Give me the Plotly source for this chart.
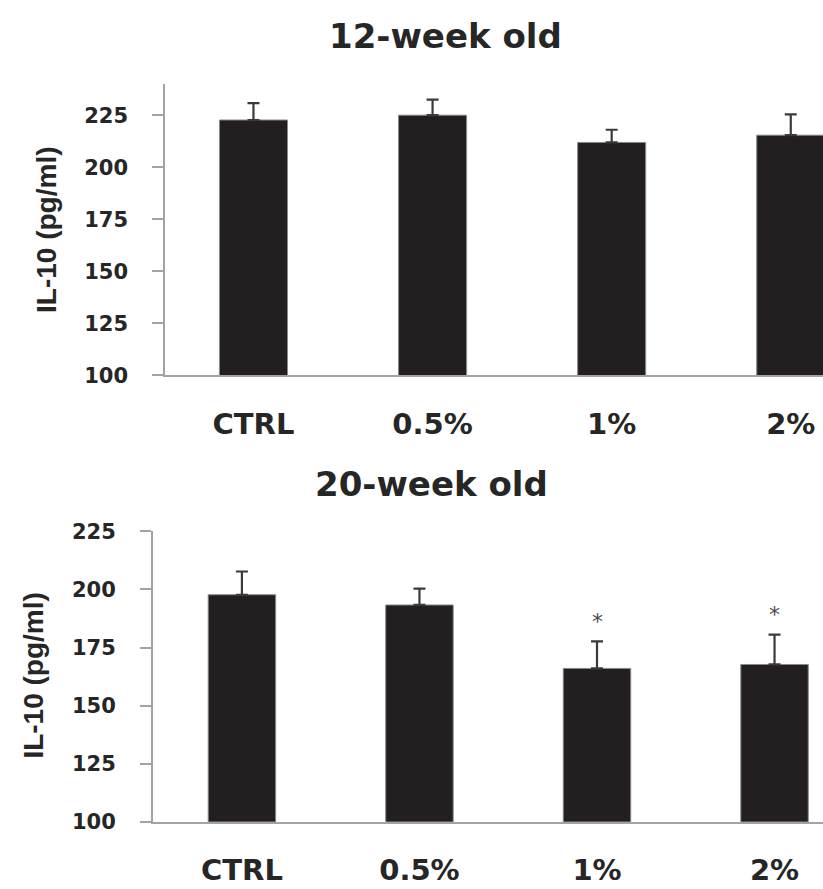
import plotly.graph_objects as go

categories = ["CTRL", "0.5%", "1%", "2%"]
week12_values = [222.7, 225.0, 211.9, 215.4]
week12_errors = [8.1, 7.5, 6.1, 10.0]
week20_values = [197.7, 193.3, 166.0, 167.7]
week20_errors = [10.0, 7.0, 11.6, 12.8]
week20_marks = ["", "", "*", "*"]
y_ticks = [100, 125, 150, 175, 200, 225]
titles = ["12-week old", "20-week old"]
y_title = "IL-10 (pg/ml)"

W, H = 823, 889
x_idx = list(range(len(categories)))

BAR = "#231f20"
AX = "#a3a3a3"
TXT = "#262626"
num_font = dict(family="DejaVu Sans", size=21, color=TXT, weight="bold")
cat_font = dict(family="DejaVu Sans", size=29, color=TXT, weight="bold")

fig = go.Figure()

def add_bars(vals, errs, xa, ya):
    fig.add_trace(go.Bar(
        x=x_idx, y=vals, width=0.38, xaxis=xa, yaxis=ya,
        marker=dict(color=BAR, line=dict(color="#8a8a8a", width=1)),
        error_y=dict(type="data", array=errs, symmetric=False, arrayminus=[0]*len(errs),
                     color="#3a3a3a", thickness=2.2, width=6),
        showlegend=False, hoverinfo="skip"))

add_bars(week12_values, week12_errors, "x", "y")
add_bars(week20_values, week20_errors, "x2", "y2")

for i, (v, e, m) in enumerate(zip(week20_values, week20_errors, week20_marks)):
    if m:
        fig.add_annotation(xref="x2", yref="y2", x=i, y=v + e, text=m, showarrow=False,
                           xanchor="center", yanchor="middle", yshift=20,
                           font=dict(family="DejaVu Sans", size=22, color="#4a4a4a"))

def xaxis_cfg(dom, rng):
    return dict(domain=dom, range=rng, tickmode="array", tickvals=x_idx, ticktext=categories,
                showline=True, linecolor=AX, linewidth=1.5, ticks="outside", ticklen=22,
                tickcolor="rgba(0,0,0,0)", tickfont=cat_font, showgrid=False, zeroline=False,
                fixedrange=True)

def yaxis_cfg(dom, rng, anchor):
    return dict(domain=dom, range=rng, tickvals=y_ticks, showline=True, linecolor=AX,
                linewidth=1.5, ticks="outside", ticklen=11, tickcolor=AX, tickwidth=1.5,
                tickfont=num_font, showgrid=False, zeroline=False, anchor=anchor,
                ticklabelstandoff=20, fixedrange=True)

fig.update_layout(
    width=W, height=H, margin=dict(l=0, r=0, t=0, b=0),
    paper_bgcolor="white", plot_bgcolor="white",
    xaxis=xaxis_cfg([165 / W, 1], [-0.494, 3.18]) | dict(anchor="y"),
    yaxis=yaxis_cfg([1 - 373.3 / H, 1 - 74 / H], [100, 240], "x"),
    xaxis2=xaxis_cfg([152.8 / W, 1], [-0.502, 3.273]) | dict(anchor="y2"),
    yaxis2=yaxis_cfg([1 - 832.3 / H, 1 - 533.7 / H], [100, 225], "x2"),
)

ann = [
    dict(text=titles[0], x=445 / W, y=1 - 25 / H),
    dict(text=titles[1], x=431 / W, y=1 - 485 / H),
]
for a in ann:
    fig.add_annotation(xref="paper", yref="paper", xanchor="center", yanchor="middle",
                       showarrow=False, font=dict(family="DejaVu Sans", size=34, color=TXT, weight="bold"),
                       **a)
for xx, yy in [(47, 224), (34, 682)]:
    fig.add_annotation(xref="paper", yref="paper", x=xx / W, y=1 - yy / H, text=y_title,
                       textangle=-90, showarrow=False, xanchor="center", yanchor="middle",
                       font=dict(family="Liberation Sans", size=28, color=TXT, weight="bold"))

fig.write_html("out.html", config={"displayModeBar": False},
               post_script="document.body.style.margin='0';document.body.style.overflow='hidden';")
